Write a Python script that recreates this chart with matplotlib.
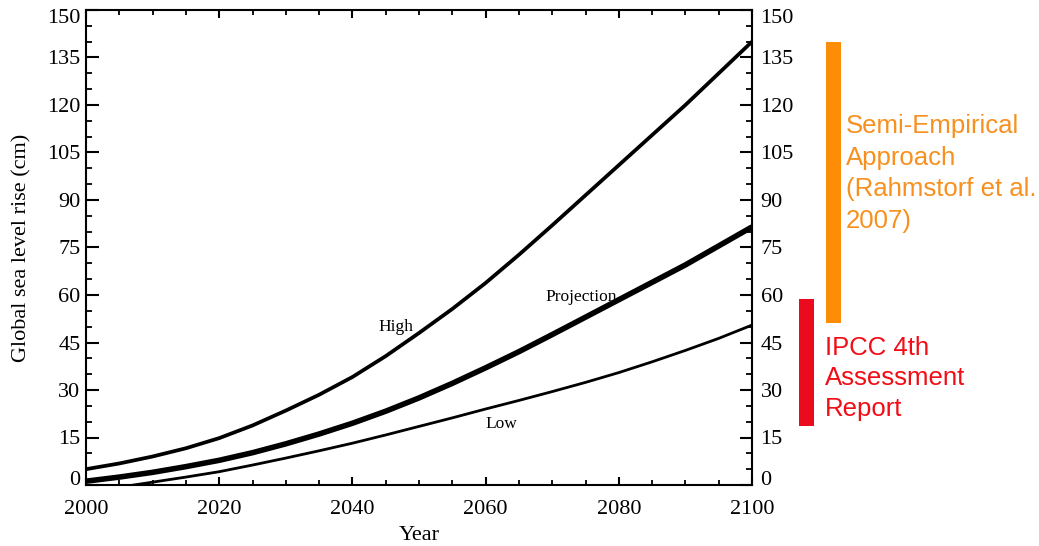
import numpy as np
import matplotlib
matplotlib.use("Agg")
import matplotlib.pyplot as plt
from matplotlib.patches import Rectangle
import matplotlib.transforms as mtransforms
from matplotlib.ticker import MultipleLocator

years = [2000, 2005, 2010, 2015, 2020, 2025, 2030, 2035, 2040, 2045, 2050,
         2055, 2060, 2065, 2070, 2075, 2080, 2085, 2090, 2095, 2100]
high = [5.0, 6.8, 9.0, 11.6, 14.8, 18.8, 23.5, 28.5, 34.1, 40.7, 48.0,
        55.6, 63.8, 72.7, 82.0, 91.5, 101.0, 110.5, 120.0, 130.0, 140.0]
projection = [1.2, 2.5, 4.0, 5.8, 7.8, 10.2, 13.0, 16.1, 19.5, 23.3, 27.5,
              32.1, 37.0, 42.1, 47.5, 53.0, 58.5, 64.0, 69.5, 75.5, 81.5]
low = [-2.2, -0.7, 0.9, 2.5, 4.2, 6.3, 8.5, 10.8, 13.2, 15.8, 18.5,
       21.2, 24.0, 26.7, 29.5, 32.4, 35.5, 38.9, 42.5, 46.3, 50.5]

# ranges shown as side bars (cm)
semi_empirical_range = (51, 140)
ipcc_range = (18.7, 58.7)

yticks = [0, 15, 30, 45, 60, 75, 90, 105, 120, 135, 150]
xticks = [2000, 2020, 2040, 2060, 2080, 2100]

serif = ["Liberation Serif", "DejaVu Serif"]
sans = ["Liberation Sans", "DejaVu Sans"]

fig = plt.figure(figsize=(10.39, 5.46), dpi=100)
ax = fig.add_axes([86/1039, 1-485/546, (752-86)/1039, (485-10)/546])

ax.plot(years, high, color="black", lw=2.7, solid_capstyle="butt")
ax.plot(years, projection, color="black", lw=4.0, solid_capstyle="butt")
ax.plot(years, low, color="black", lw=2.0, solid_capstyle="butt")

ax.set_xlim(2000, 2100)
ax.set_ylim(0, 150)
ax.set_xticks(xticks)
ax.set_yticks(yticks)
ax.xaxis.set_minor_locator(MultipleLocator(5))
ax.yaxis.set_minor_locator(MultipleLocator(5))

for s in ax.spines.values():
    s.set_linewidth(1.5)

ax.tick_params(axis="x", which="major", direction="in", top=True, bottom=True,
               length=6, width=1.5, pad=11, labelsize=16)
ax.tick_params(axis="x", which="minor", direction="in", top=True, bottom=True,
               length=3.5, width=1.3)
ax.tick_params(axis="y", which="major", direction="in", left=True, right=True,
               labelleft=True, labelright=True, length=9, width=1.5, pad=4,
               labelsize=16)
ax.tick_params(axis="y", which="minor", direction="in", left=True, right=True,
               length=4, width=1.3)
for lab in ax.get_xticklabels():
    lab.set_family(serif)
for t in ax.yaxis.get_major_ticks():
    t.label1.set_family(serif)
    t.label2.set_family(serif)

# nudge the end labels inward like the reference
ytl = ax.yaxis.get_major_ticks()
up = mtransforms.ScaledTranslation(0, 7/100, fig.dpi_scale_trans)
down = mtransforms.ScaledTranslation(0, -6/100, fig.dpi_scale_trans)
right = mtransforms.ScaledTranslation(3/100, 0, fig.dpi_scale_trans)
for t in ytl:
    t.label2.set_transform(t.label2.get_transform() + right)
ytl[0].label1.set_transform(ytl[0].label1.get_transform() + up)
ytl[0].label2.set_transform(ytl[0].label2.get_transform() + up)
ytl[-1].label1.set_transform(ytl[-1].label1.get_transform() + down)
ytl[-1].label2.set_transform(ytl[-1].label2.get_transform() + down)

ax.set_xlabel("Year", family=serif, fontsize=16, labelpad=5)
ax.set_ylabel("Global sea level rise (cm)", family=serif, fontsize=16, labelpad=11)

ax.text(2046.6, 49.9, "High", family=serif, fontsize=12.5, ha="center", va="center")
ax.text(2074.4, 59.4, "Projection", family=serif, fontsize=12.5, ha="center", va="center")
ax.text(2062.4, 19.3, "Low", family=serif, fontsize=12.5, ha="center", va="center")

trans = mtransforms.blended_transform_factory(ax.transAxes, ax.transData)
ax_w = 752 - 86
orange_x0 = (826 - 86) / ax_w
red_x0 = (799 - 86) / ax_w
bar_w = 14.5 / ax_w
ax.add_patch(Rectangle((orange_x0, semi_empirical_range[0]), bar_w,
                       semi_empirical_range[1] - semi_empirical_range[0],
                       transform=trans, clip_on=False, color="#FD8C06", lw=0))
ax.add_patch(Rectangle((red_x0, ipcc_range[0]), bar_w,
                       ipcc_range[1] - ipcc_range[0],
                       transform=trans, clip_on=False, color="#EC0A1E", lw=0))

fig.text(846/1039, 1-114/546, "Semi-Empirical\nApproach\n(Rahmstorf et al.\n2007)",
         family=sans, fontsize=18.5, color="#F7901E", ha="left", va="top",
         linespacing=1.4)
fig.text(825/1039, 1-336/546, "IPCC 4th\nAssessment\nReport",
         family=sans, fontsize=18.5, color="#F20D16", ha="left", va="top",
         linespacing=1.33)

fig.savefig("out.png", dpi=100)
